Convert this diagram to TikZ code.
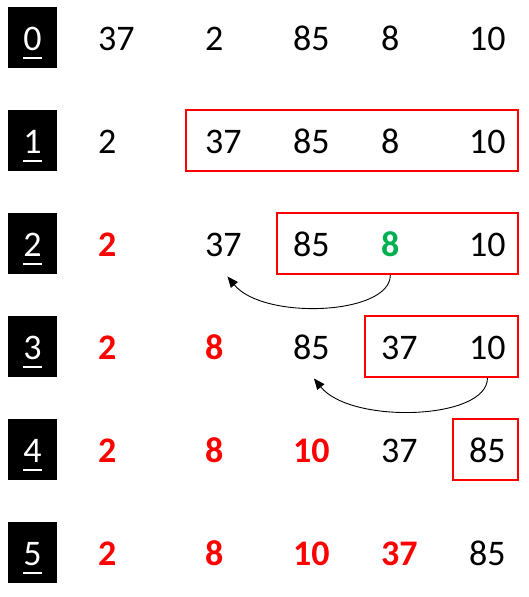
\documentclass[tikz,border=0pt]{standalone}
\usepackage{fontspec}
\setmainfont{Carlito}
\usetikzlibrary{arrows.meta}
\definecolor{hired}{RGB}{255,0,0}
\definecolor{higreen}{RGB}{0,176,80}
\newcommand{\idxnum}[1]{\setbox0\hbox{#1}\rlap{\rule[-8.75pt]{\wd0}{1.5pt}}\box0}
\begin{document}
\begin{tikzpicture}[x=1pt,y=1pt,
    font=\fontsize{36}{43}\selectfont,
    sorted/.style={text=hired,font=\fontsize{36}{43}\selectfont\bfseries},
    picked/.style={text=higreen,font=\fontsize{36}{43}\selectfont\bfseries},
    arr/.style={draw,line width=0.9pt,-{Triangle[length=11pt,width=9pt]}}]

        \useasboundingbox (0,0) rectangle (529,-597);

        % step numbers
        \begin{scope}[every node/.style={fill=black,text=white,anchor=base,inner sep=0pt,
            minimum width=49pt,text height=43pt,text depth=18pt}]
          \node (i0) at (32.5,-50)  {\idxnum{0}};
          \node (i1) at (32.5,-153) {\idxnum{1}};
          \node (i2) at (32.5,-256) {\idxnum{2}};
          \node (i3) at (32.5,-359) {\idxnum{3}};
          \node (i4) at (32.5,-462) {\idxnum{4}};
          \node (i5) at (32.5,-565) {\idxnum{5}};
        \end{scope}

        % unsorted part
        \begin{scope}[every node/.style={draw=hired,line width=2.25pt,minimum height=61pt}]
          \node[minimum width=332pt] (b1) at (352,-140.5)   {};
          \node[minimum width=241pt] (b2) at (397.5,-243.5) {};
          \node[minimum width=153pt] (b3) at (441.5,-346.5) {};
          \node[minimum width=65pt]  (b4) at (485.5,-449.5) {};
        \end{scope}

        \begin{scope}[every node/.style={anchor=base west,inner sep=0pt}]
          \node (n01) at (98,-50)  {37};
          \node (n02) at (205,-50) {2};
          \node (n03) at (293,-50) {85};
          \node (n04) at (381,-50) {8};
          \node (n05) at (469,-50) {10};

          \node (n11) at (98,-153)  {2};
          \node (n12) at (205,-153) {37};
          \node (n13) at (293,-153) {85};
          \node (n14) at (381,-153) {8};
          \node (n15) at (469,-153) {10};

          \node[sorted] (n21) at (98,-256)  {2};
          \node (n22) at (205,-256) {37};
          \node (n23) at (293,-256) {85};
          \node[picked] (n24) at (381,-256) {8};
          \node (n25) at (469,-256) {10};

          \node[sorted] (n31) at (98,-359)  {2};
          \node[sorted] (n32) at (205,-359) {8};
          \node (n33) at (293,-359) {85};
          \node (n34) at (381,-359) {37};
          \node (n35) at (469,-359) {10};

          \node[sorted] (n41) at (98,-462)  {2};
          \node[sorted] (n42) at (205,-462) {8};
          \node[sorted] (n43) at (293,-462) {10};
          \node (n44) at (381,-462) {37};
          \node (n45) at (469,-462) {85};

          \node[sorted] (n51) at (98,-565)  {2};
          \node[sorted] (n52) at (205,-565) {8};
          \node[sorted] (n53) at (293,-565) {10};
          \node[sorted] (n54) at (381,-565) {37};
          \node (n55) at (469,-565) {85};
        \end{scope}

        % swaps
        \coordinate (s2) at (b2.south -| n24);
        \coordinate (t2) at ([xshift=4pt,yshift=-20pt]n22.south);
        \coordinate (s3) at (b3.south -| n35);
        \coordinate (t3) at ([xshift=2.5pt,yshift=-19pt]n33.south);
        \path[arr] (s2) .. controls +(0,-40) and +(36,-44) .. (t2);
        \path[arr] (s3) .. controls +(0,-42) and +(37,-46) .. (t3);

      \end{tikzpicture}
\end{document}
